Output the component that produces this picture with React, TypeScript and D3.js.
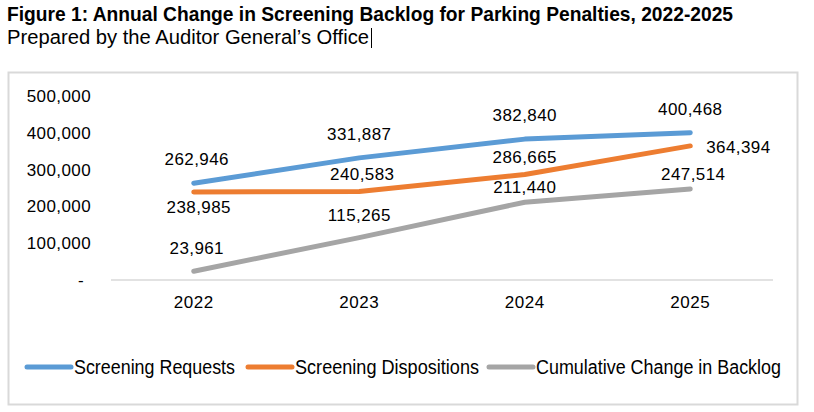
import React, { useEffect, useRef } from "react";
import * as d3 from "d3";

const years = ["2022", "2023", "2024", "2025"];
const requests = [262946, 331887, 382840, 400468];
const dispositions = [238985, 240583, 286665, 364394];
const backlog = [23961, 115265, 211440, 247514];
const yTicks = [0, 100000, 200000, 300000, 400000, 500000];
const seriesNames = ["Screening Requests", "Screening Dispositions", "Cumulative Change in Backlog"];

const colors = ["#5B9BD5", "#ED7D31", "#A5A5A5"];
// where each data label sits relative to its point: [dx, dy]
const labelOffsets: number[][][] = [
  [[3, -24], [0, -24], [0, -24], [0, -24]],
  [[5, 15], [3, -17], [0, -17], [16, 1]],
  [[3, -23], [0, -23], [0, -15], [3, -15]],
];

const numFont = "'Liberation Sans', Arial, sans-serif";
const narrowFont = "'Liberation Sans Narrow', 'Arial Narrow', 'Liberation Sans', sans-serif";

export default function App() {
  const ref = useRef<SVGSVGElement>(null);

  useEffect(() => {
    const svg = d3.select(ref.current);
    svg.selectAll("*").remove();

    const fmt = d3.format(",");

    // title + subtitle
    svg.append("text")
      .attr("x", 7).attr("y", 21)
      .attr("font-family", narrowFont).attr("font-weight", "bold")
      .attr("font-size", 21)
      .attr("textLength", 726).attr("lengthAdjust", "spacingAndGlyphs")
      .attr("fill", "#000")
      .text("Figure 1: Annual Change in Screening Backlog for Parking Penalties, 2022-2025");
    svg.append("text")
      .attr("x", 7).attr("y", 44)
      .attr("font-family", narrowFont)
      .attr("font-size", 20)
      .attr("textLength", 362).attr("lengthAdjust", "spacingAndGlyphs")
      .attr("fill", "#000")
      .text("Prepared by the Auditor General\u2019s Office");
    svg.append("line")
      .attr("x1", 371.5).attr("x2", 371.5).attr("y1", 28).attr("y2", 48)
      .attr("stroke", "#000").attr("stroke-width", 1);

    // chart frame
    svg.append("rect")
      .attr("x", 8.5).attr("y", 72.5).attr("width", 789).attr("height", 332)
      .attr("fill", "#fff").attr("stroke", "#d9d9d9").attr("stroke-width", 2);

    const x = d3.scaleBand().domain(years).range([111, 773]);
    const y = d3.scaleLinear().domain([0, 500000]).range([280, 96]);
    const cx = (d: string) => (x(d) as number) + x.bandwidth() / 2;

    // y tick labels
    svg.append("g").selectAll("text")
      .data(yTicks).enter().append("text")
      .attr("x", d => (d === 0 ? 84 : 91))
      .attr("y", d => y(d))
      .attr("dy", "0.35em")
      .attr("text-anchor", "end")
      .attr("font-family", numFont).attr("font-size", 17)
      .attr("letter-spacing", 0.4)
      .attr("fill", "#000")
      .text(d => (d === 0 ? "-" : fmt(d)));

    // axis
    svg.append("line")
      .attr("x1", 111).attr("x2", 773).attr("y1", y(0)).attr("y2", y(0))
      .attr("stroke", "#d9d9d9").attr("stroke-width", 1.5);

    svg.append("g").selectAll("text")
      .data(years).enter().append("text")
      .attr("x", d => cx(d)).attr("y", 302).attr("dy", "0.35em")
      .attr("text-anchor", "middle")
      .attr("font-family", numFont).attr("font-size", 17)
      .attr("letter-spacing", 0.6)
      .attr("fill", "#000")
      .text(d => d);

    const series = [requests, dispositions, backlog];
    const line = d3.line<number>()
      .x((_, i) => cx(years[i]))
      .y(d => y(d));

    series.forEach((vals, s) => {
      svg.append("path")
        .attr("d", line(vals))
        .attr("fill", "none")
        .attr("stroke", colors[s]).attr("stroke-width", 5)
        .attr("stroke-linecap", "round").attr("stroke-linejoin", "round");
    });

    series.forEach((vals, s) => {
      svg.append("g").selectAll("text")
        .data(vals).enter().append("text")
        .attr("x", (d, i) => cx(years[i]) + labelOffsets[s][i][0])
        .attr("y", (d, i) => y(d) + labelOffsets[s][i][1])
        .attr("dy", "0.35em")
        .attr("text-anchor", (d, i) => (labelOffsets[s][i][0] > 10 ? "start" : "middle"))
        .attr("font-family", numFont).attr("font-size", 17)
        .attr("letter-spacing", 0.4)
        .attr("fill", "#000")
        .text(d => fmt(d));
    });

    // legend
    const legendX = [27, 248, 489];
    const legendW = [161, 184, 245];
    const lg = svg.append("g").selectAll("g")
      .data(seriesNames).enter().append("g")
      .attr("transform", (d, i) => "translate(" + legendX[i] + ",367)");
    lg.append("line")
      .attr("x1", 0).attr("x2", 44).attr("y1", 0).attr("y2", 0)
      .attr("stroke", (d, i) => colors[i]).attr("stroke-width", 5)
      .attr("stroke-linecap", "round");
    lg.append("text")
      .attr("x", 47).attr("y", 0).attr("dy", "0.35em")
      .attr("font-family", narrowFont).attr("font-size", 20)
      .attr("textLength", (d, i) => legendW[i])
      .attr("lengthAdjust", "spacingAndGlyphs")
      .attr("fill", "#000")
      .text(d => d);
  }, []);

  return (
    <svg
      ref={ref}
      width={814}
      height={412}
      style={{ position: "absolute", left: 0, top: 0, background: "#fff" }}
    />
  );
}
